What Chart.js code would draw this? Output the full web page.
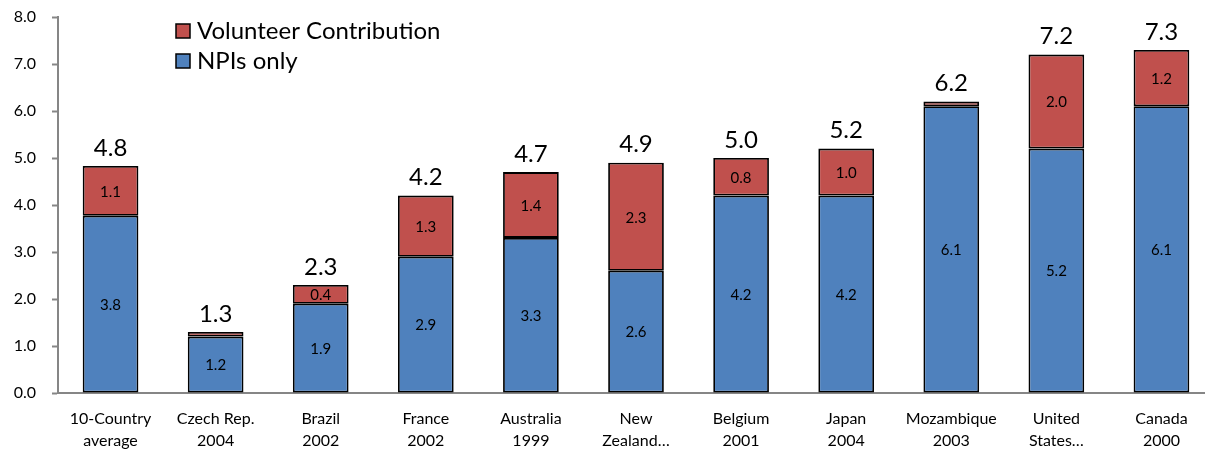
<!DOCTYPE html>
<html>
<head>
<meta charset="utf-8">
<script src="https://cdn.jsdelivr.net/npm/chart.js@4/dist/chart.umd.min.js"></script>
<style>
    html, body { margin: 0; padding: 0; background: #fff; overflow: hidden; }
    #wrap { width: 1214px; height: 451px; }
</style>
</head>
<body>
<div id="wrap"><canvas id="npiChart"></canvas></div>
<script>
// Categorias (país / ano)
const paises = [
    ['10-Country', 'average'],
    ['Czech Rep.', '2004'],
    ['Brazil', '2002'],
    ['France', '2002'],
    ['Australia', '1999'],
    ['New', 'Zealand…'],
    ['Belgium', '2001'],
    ['Japan', '2004'],
    ['Mozambique', '2003'],
    ['United', 'States…'],
    ['Canada', '2000']
];

// Valores em % do PIB
const npis = [3.77, 1.2, 1.9, 2.9, 3.3, 2.6, 4.2, 4.2, 6.1, 5.2, 6.1];
const voluntarios = [1.06, 0.1, 0.4, 1.3, 1.4, 2.3, 0.8, 1.0, 0.1, 2.0, 1.2];

const ticksY = [0, 1, 2, 3, 4, 5, 6, 7, 8];

const AZUL = '#4F81BD';
const VERMELHO = '#C0504D';
const FONTE = 'Lato, "Open Sans", sans-serif';

// Rótulos dentro das barras e totais acima
const rotulosPlugin = {
    id: 'rotulos',
    afterDatasetsDraw(chart) {
        const ctx = chart.ctx;
        ctx.save();
        ctx.textAlign = 'center';
        ctx.textBaseline = 'middle';
        ctx.fillStyle = '#000';
        ctx.font = '15px ' + FONTE;
        chart.data.datasets.forEach(function(ds, i) {
            const meta = chart.getDatasetMeta(i);
            meta.data.forEach(function(bar, j) {
                const v = ds.data[j];
                if (v < 0.3) return; // segmento pequeno demais
                ctx.fillText(v.toFixed(1), bar.x, (bar.y + bar.base) / 2 + 1);
            });
        });
        // totais
        ctx.font = '24px ' + FONTE;
        ctx.textBaseline = 'bottom';
        const topo = chart.getDatasetMeta(1).data;
        topo.forEach(function(bar, j) {
            const total = npis[j] + voluntarios[j];
            ctx.fillText(total.toFixed(1), bar.x, bar.y - 6);
        });
        ctx.restore();
    }
};

// Legenda dentro da área do gráfico
const legendaPlugin = {
    id: 'legenda',
    afterDraw(chart) {
        const ctx = chart.ctx;
        const itens = [['Volunteer Contribution', VERMELHO], ['NPIs only', AZUL]];
        ctx.save();
        ctx.font = '24px ' + FONTE;
        ctx.textBaseline = 'middle';
        ctx.textAlign = 'left';
        itens.forEach(function(item, i) {
            const y = 31 + i * 30;
            ctx.fillStyle = item[1];
            ctx.fillRect(176, y - 7, 14, 14);
            ctx.strokeStyle = '#000';
            ctx.lineWidth = 1.5;
            ctx.strokeRect(176, y - 7, 14, 14);
            ctx.fillStyle = '#000';
            ctx.fillText(item[0], 197, y);
        });
        ctx.restore();
    }
};

const ctx = document.getElementById('npiChart').getContext('2d');
let npiChart = new Chart(ctx, {
    type: 'bar',
    data: {
        labels: paises,
        datasets: [{
            label: 'NPIs only',
            data: npis,
            backgroundColor: AZUL,
            borderColor: '#000',
            borderWidth: 1.8,
            borderSkipped: false
        }, {
            label: 'Volunteer Contribution',
            data: voluntarios,
            backgroundColor: VERMELHO,
            borderColor: '#000',
            borderWidth: 1.8,
            borderSkipped: false
        }]
    },
    options: {
        responsive: true,
        maintainAspectRatio: false,
        animation: false,
        layout: { padding: { top: 17, right: 0, bottom: 0, left: 0 } },
        datasets: { bar: { categoryPercentage: 1, barPercentage: 0.53 } },
        plugins: {
            legend: { display: false },
            tooltip: { enabled: false }
        },
        scales: {
            x: {
                stacked: true,
                grid: { display: false, drawTicks: false },
                border: { color: '#868686', width: 2 },
                ticks: {
                    color: '#000',
                    font: { family: FONTE, size: 16, lineHeight: 1.38 },
                    padding: 15,
                    maxRotation: 0,
                    autoSkip: false
                },
                afterFit(axis) { axis.height = 58; }
            },
            y: {
                stacked: true,
                min: 0,
                max: 8,
                afterBuildTicks(axis) {
                    axis.ticks = ticksY.map(function(v) { return { value: v }; });
                },
                afterFit(axis) {
                    axis.width = 58;
                    axis.paddingTop = 0;
                    axis.paddingBottom = 0;
                },
                grid: {
                    display: true,
                    drawOnChartArea: false,
                    tickLength: 6,
                    tickWidth: 2,
                    tickColor: '#868686'
                },
                border: { color: '#868686', width: 2 },
                ticks: {
                    color: '#000',
                    font: { family: FONTE, size: 16 },
                    padding: 16,
                    callback: function(v) { return v.toFixed(1); }
                }
            }
        }
    },
    plugins: [rotulosPlugin, legendaPlugin]
});
</script>
</body>
</html>
